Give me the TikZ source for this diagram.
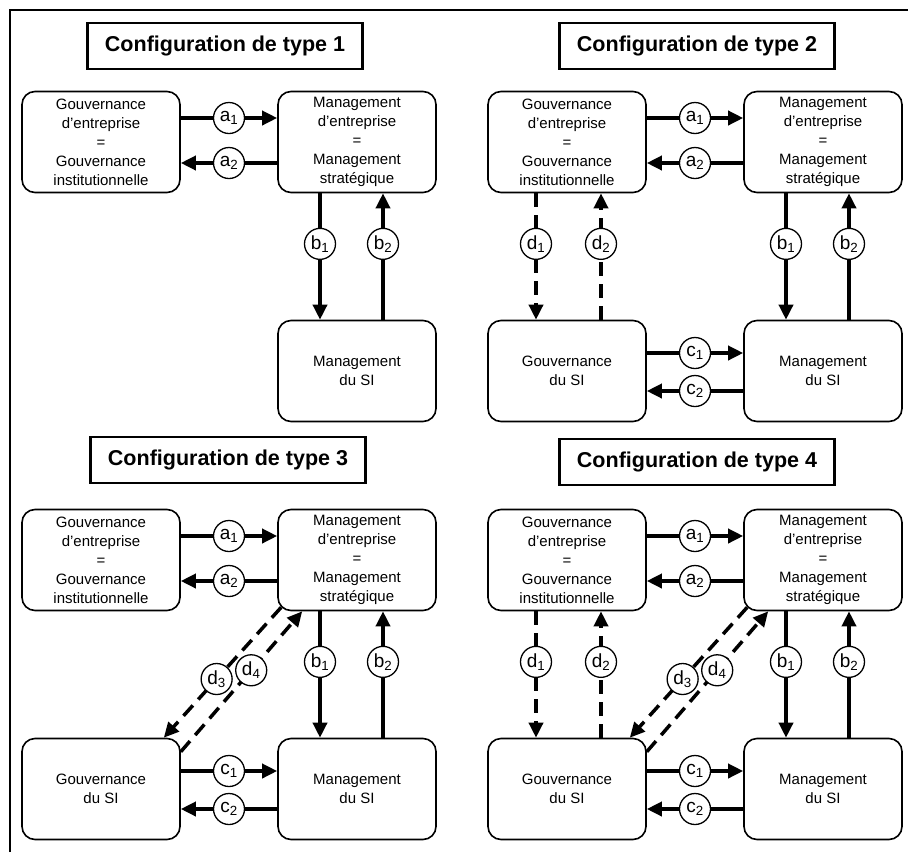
\documentclass[tikz,border=0pt]{standalone}
\usepackage{fontspec}
\setmainfont{Liberation Sans}
\usetikzlibrary{arrows.meta}

\begin{document}
\begin{tikzpicture}[
	x=1pt,y=-1pt,
	box/.style={rectangle,draw,rounded corners=13pt,line width=1.6pt,
		minimum width=158pt,minimum height=101pt,align=center,
		font=\fontsize{15}{19}\selectfont},
	titlebox/.style={rectangle,draw,line width=2.4pt,minimum width=275pt,
		minimum height=46pt,font=\fontsize{21.5}{24}\selectfont\bfseries},
	lab/.style={circle,draw,solid,fill=white,line width=1.3pt,minimum size=31pt,
		inner sep=0pt,font=\fontsize{19}{19}\selectfont},
	flow/.style={line width=3.5pt,-{Triangle[length=15pt,width=14pt]}},
	dflow/.style={flow,dash pattern=on 14pt off 8pt},
	]
\useasboundingbox (0,0) rectangle (908,852);
\draw[line width=2pt] (10,852) -- (10,10) -- (908,10);

% type 1
\begin{scope}
\node (t1) [titlebox] at (225,46) {Configuration de type 1};
\node (ge1) [box] at (101,142) {Gouvernance\\d'entreprise\\=\\Gouvernance\\institutionnelle};
\node (me1) [box] at (357,142) {Management\\d'entreprise\\=\\Management\\stratégique};
\node (msi1) [box] at (357,371) {Management\\du SI};
\draw[flow] ([yshift=24pt]ge1.east) -- node[lab] {a\textsubscript{1}} ([yshift=24pt]me1.west);
\draw[flow] ([yshift=-21pt]me1.west) -- node[lab] {a\textsubscript{2}} ([yshift=-21pt]ge1.east);
\draw[flow] ([xshift=-37pt]me1.south) -- node[lab,pos=0.4] {b\textsubscript{1}} ([xshift=-37pt]msi1.north);
\draw[flow] ([xshift=26pt]msi1.north) -- node[lab,pos=0.6] {b\textsubscript{2}} ([xshift=26pt]me1.south);
\end{scope}

% type 2
\begin{scope}[shift={(466,0)}]
\node (t2) [titlebox] at (231,46) {Configuration de type 2};
\node (ge2) [box] at (101,142) {Gouvernance\\d'entreprise\\=\\Gouvernance\\institutionnelle};
\node (me2) [box] at (357,142) {Management\\d'entreprise\\=\\Management\\stratégique};
\node (gsi2) [box] at (101,371) {Gouvernance\\du SI};
\node (msi2) [box] at (357,371) {Management\\du SI};
\draw[flow] ([yshift=24pt]ge2.east) -- node[lab] {a\textsubscript{1}} ([yshift=24pt]me2.west);
\draw[flow] ([yshift=-21pt]me2.west) -- node[lab] {a\textsubscript{2}} ([yshift=-21pt]ge2.east);
\draw[flow] ([xshift=-37pt]me2.south) -- node[lab,pos=0.4] {b\textsubscript{1}} ([xshift=-37pt]msi2.north);
\draw[flow] ([xshift=26pt]msi2.north) -- node[lab,pos=0.6] {b\textsubscript{2}} ([xshift=26pt]me2.south);
\draw[flow] ([yshift=18pt]gsi2.east) -- node[lab] {c\textsubscript{1}} ([yshift=18pt]msi2.west);
\draw[flow] ([yshift=-20pt]msi2.west) -- node[lab] {c\textsubscript{2}} ([yshift=-20pt]gsi2.east);
\draw[dflow] ([xshift=-31pt]ge2.south) -- node[lab,pos=0.4] {d\textsubscript{1}} ([xshift=-31pt]gsi2.north);
\draw[dflow] ([xshift=34pt]gsi2.north) -- node[lab,pos=0.6] {d\textsubscript{2}} ([xshift=34pt]ge2.south);
\end{scope}

% type 3
\begin{scope}[shift={(0,418)}]
\node (t3) [titlebox] at (228,42) {Configuration de type 3};
\node (ge3) [box] at (101,142) {Gouvernance\\d'entreprise\\=\\Gouvernance\\institutionnelle};
\node (me3) [box] at (357,142) {Management\\d'entreprise\\=\\Management\\stratégique};
\node (gsi3) [box] at (101,371) {Gouvernance\\du SI};
\node (msi3) [box] at (357,371) {Management\\du SI};
\draw[flow] ([yshift=24pt]ge3.east) -- node[lab] {a\textsubscript{1}} ([yshift=24pt]me3.west);
\draw[flow] ([yshift=-21pt]me3.west) -- node[lab] {a\textsubscript{2}} ([yshift=-21pt]ge3.east);
\draw[flow] ([xshift=-37pt]me3.south) -- node[lab,pos=0.4] {b\textsubscript{1}} ([xshift=-37pt]msi3.north);
\draw[flow] ([xshift=26pt]msi3.north) -- node[lab,pos=0.6] {b\textsubscript{2}} ([xshift=26pt]me3.south);
\draw[flow] ([yshift=18pt]gsi3.east) -- node[lab] {c\textsubscript{1}} ([yshift=18pt]msi3.west);
\draw[flow] ([yshift=-20pt]msi3.west) -- node[lab] {c\textsubscript{2}} ([yshift=-20pt]gsi3.east);
\draw[dflow] ([xshift=4pt,yshift=4pt]me3.south west) -- node[lab,pos=0.55] {d\textsubscript{3}} ([xshift=-17pt]gsi3.north east);
\draw[dflow] ([yshift=-14pt]gsi3.north east) -- node[lab,pos=0.58] {d\textsubscript{4}} ([xshift=25pt]me3.south west);
\end{scope}

% type 4
\begin{scope}[shift={(466,418)}]
\node (t4) [titlebox] at (231,44) {Configuration de type 4};
\node (ge4) [box] at (101,142) {Gouvernance\\d'entreprise\\=\\Gouvernance\\institutionnelle};
\node (me4) [box] at (357,142) {Management\\d'entreprise\\=\\Management\\stratégique};
\node (gsi4) [box] at (101,371) {Gouvernance\\du SI};
\node (msi4) [box] at (357,371) {Management\\du SI};
\draw[flow] ([yshift=24pt]ge4.east) -- node[lab] {a\textsubscript{1}} ([yshift=24pt]me4.west);
\draw[flow] ([yshift=-21pt]me4.west) -- node[lab] {a\textsubscript{2}} ([yshift=-21pt]ge4.east);
\draw[flow] ([xshift=-37pt]me4.south) -- node[lab,pos=0.4] {b\textsubscript{1}} ([xshift=-37pt]msi4.north);
\draw[flow] ([xshift=26pt]msi4.north) -- node[lab,pos=0.6] {b\textsubscript{2}} ([xshift=26pt]me4.south);
\draw[flow] ([yshift=18pt]gsi4.east) -- node[lab] {c\textsubscript{1}} ([yshift=18pt]msi4.west);
\draw[flow] ([yshift=-20pt]msi4.west) -- node[lab] {c\textsubscript{2}} ([yshift=-20pt]gsi4.east);
\draw[dflow] ([xshift=-31pt]ge4.south) -- node[lab,pos=0.4] {d\textsubscript{1}} ([xshift=-31pt]gsi4.north);
\draw[dflow] ([xshift=34pt]gsi4.north) -- node[lab,pos=0.6] {d\textsubscript{2}} ([xshift=34pt]ge4.south);
\draw[dflow] ([xshift=4pt,yshift=4pt]me4.south west) -- node[lab,pos=0.55] {d\textsubscript{3}} ([xshift=-17pt]gsi4.north east);
\draw[dflow] ([yshift=-14pt]gsi4.north east) -- node[lab,pos=0.58] {d\textsubscript{4}} ([xshift=25pt]me4.south west);
\end{scope}
\end{tikzpicture}
\end{document}
